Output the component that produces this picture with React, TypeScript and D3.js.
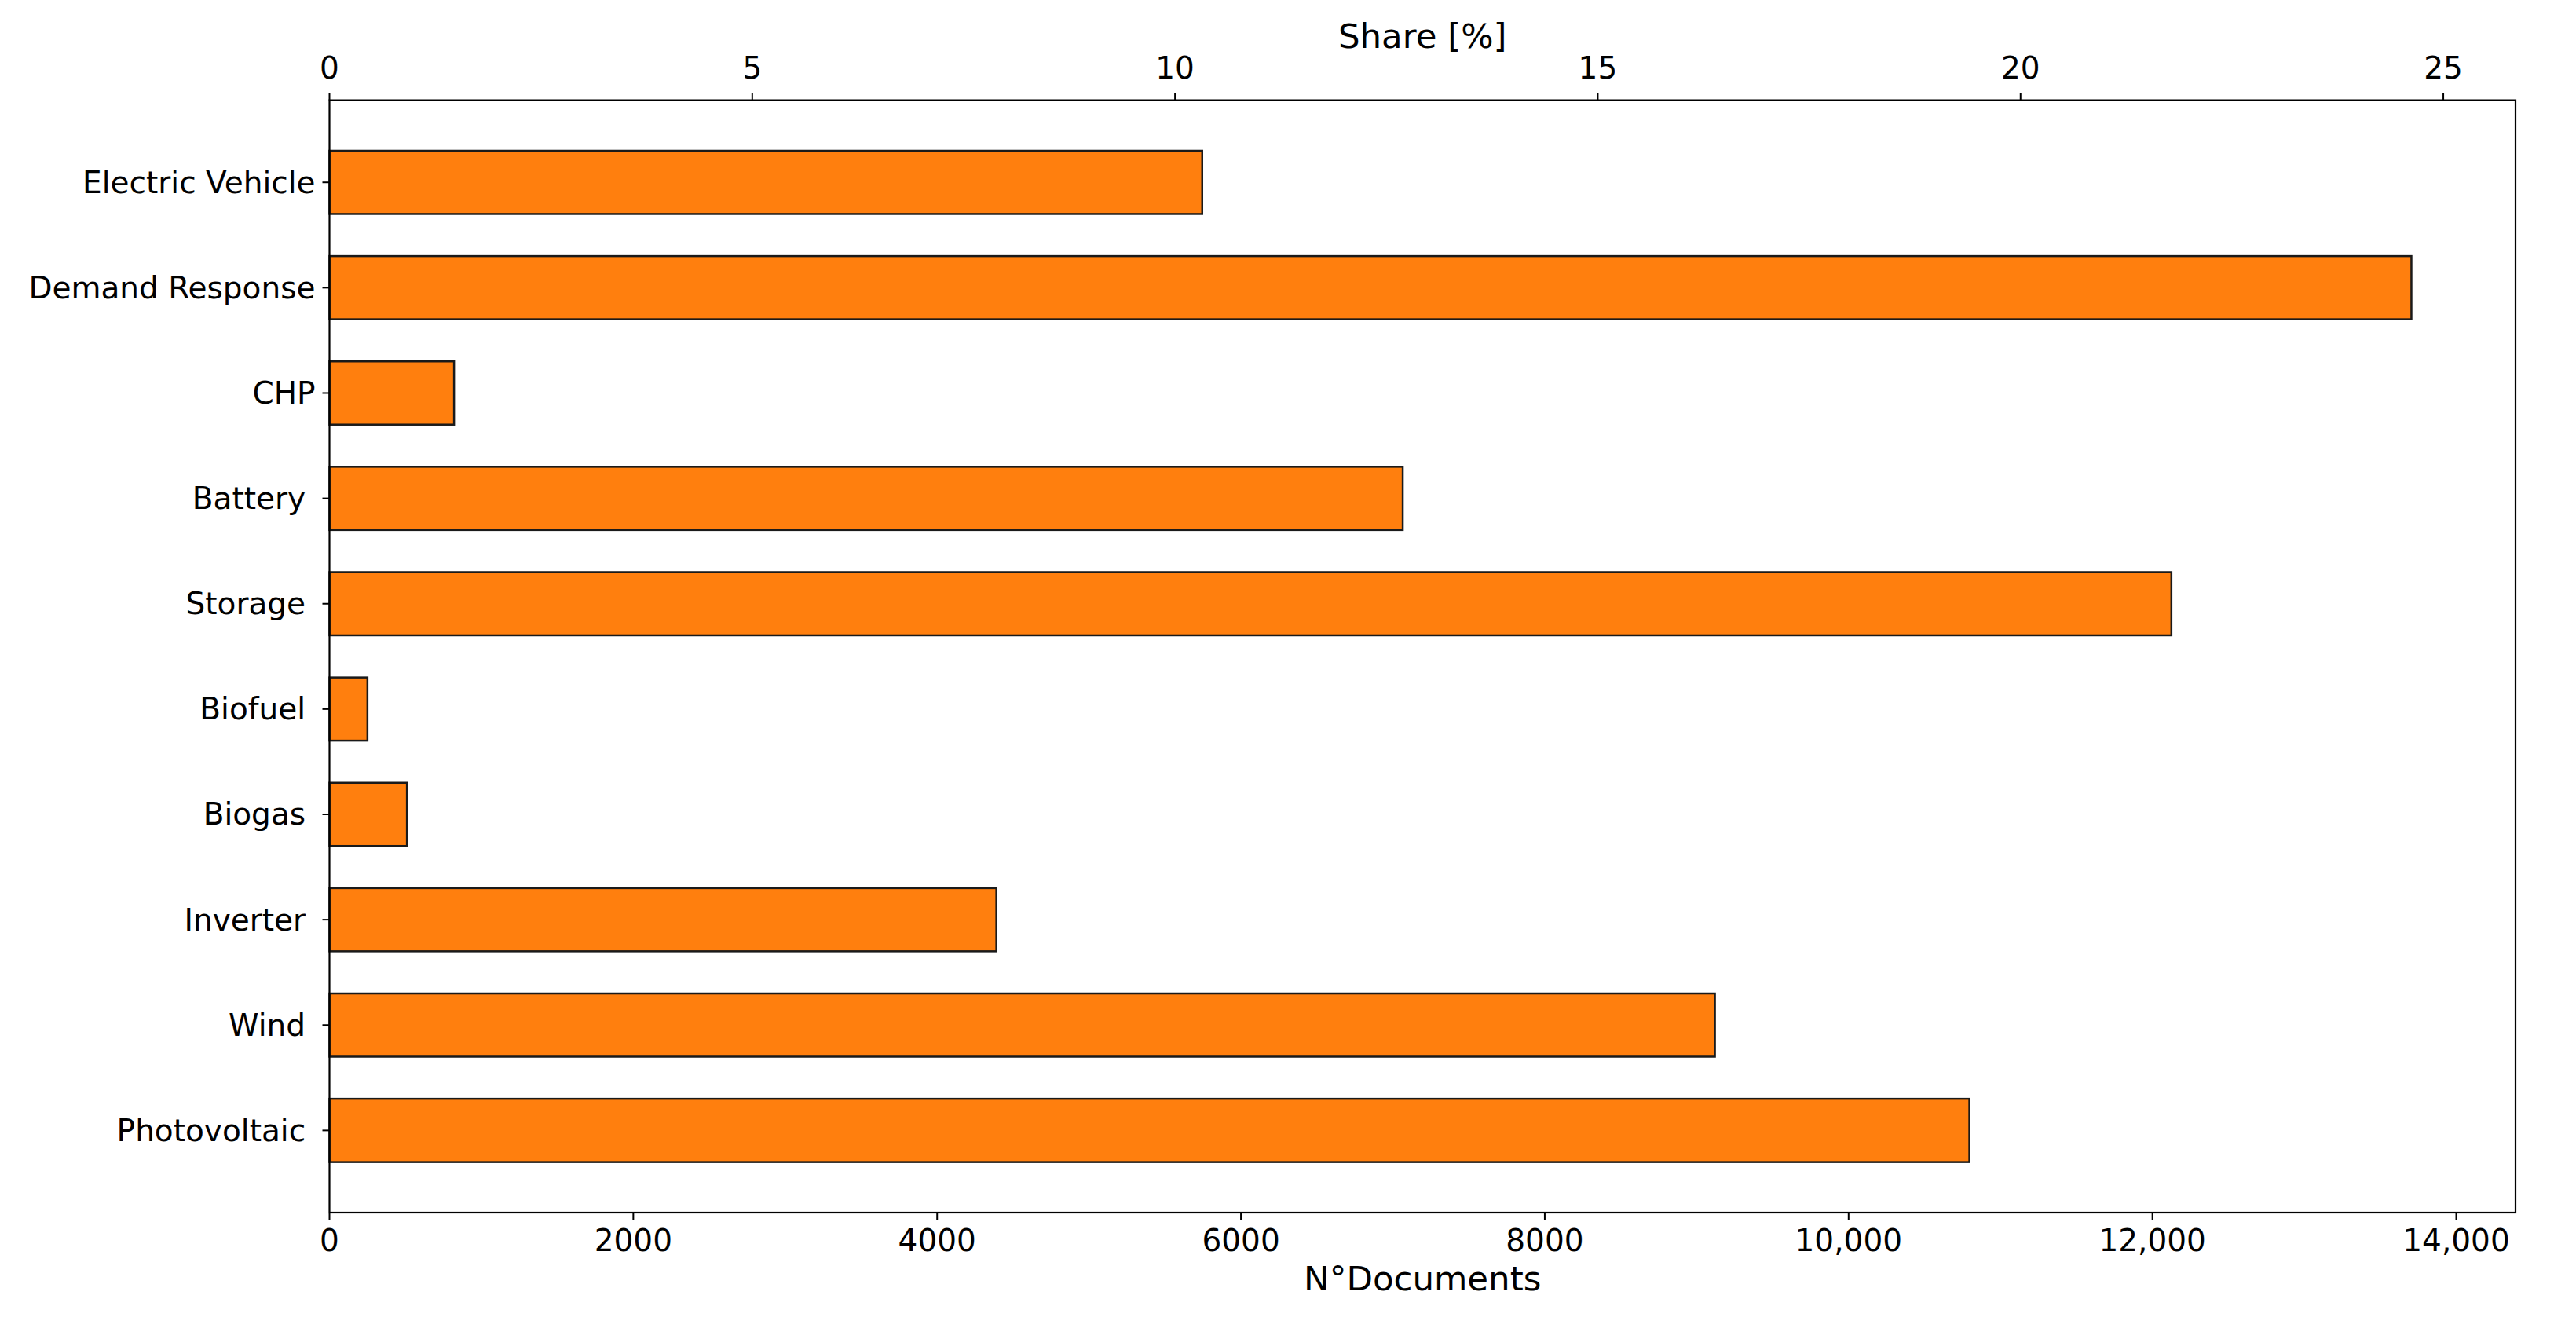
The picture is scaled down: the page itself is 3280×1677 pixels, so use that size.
import React from "react";
import * as d3 from "d3";

// ---- data (top to bottom as displayed) ----
const categories = [
  "Electric Vehicle",
  "Demand Response",
  "CHP",
  "Battery ",
  "Storage ",
  "Biofuel ",
  "Biogas ",
  "Inverter ",
  "Wind ",
  "Photovoltaic ",
];
const documents = [5745, 13705, 820, 7065, 12125, 250, 510, 4390, 9120, 10795];
const docTicks = [0, 2000, 4000, 6000, 8000, 10000, 12000, 14000];
const shareTicks = [0, 5, 10, 15, 20, 25];
const TOTAL_DOCS = 55660;

const W = 3280;
const H = 1677;
const M = { left: 419.5, right: 3203, top: 127.6, bottom: 1544 };
const FONT = "DejaVu Sans, sans-serif";
const BAR_H = 0.6;
const TICK_FS = 39;
const LABEL_FS = 43.5;

export default function App() {
  const n = categories.length;
  const xMax = (d3.max(documents) as number) * 1.05;
  const x = d3.scaleLinear().domain([0, xMax]).range([M.left, M.right]);
  const share = d3
    .scaleLinear()
    .domain([0, (xMax / TOTAL_DOCS) * 100])
    .range([M.left, M.right]);
  const span = n - 1 + BAR_H;
  const pad = span * 0.05;
  const y = d3
    .scaleLinear()
    .domain([-BAR_H / 2 - pad, n - 1 + BAR_H / 2 + pad])
    .range([M.bottom, M.top]);
  const pos = (i: number) => n - 1 - i;
  const fmt = (v: number) => (v >= 10000 ? d3.format(",")(v) : String(v));
  const barPx = Math.abs(y(BAR_H) - y(0));
  const tickLen = 9;

  return (
    <div style={{ position: "fixed", left: 0, top: 0 }}>
      <svg width={W} height={H} style={{ display: "block", background: "#fff" }} fontFamily={FONT}>
        <rect x={0} y={0} width={W} height={H} fill="#fff" />
        {/* bars */}
        {documents.map((v, i) => (
          <rect
            key={categories[i]}
            x={x(0)}
            y={y(pos(i)) - barPx / 2}
            width={x(v) - x(0)}
            height={barPx}
            fill="#ff7f0e"
            stroke="#1a1a1a"
            strokeWidth={2.5}
          />
        ))}
        {/* frame */}
        <rect
          x={M.left}
          y={M.top}
          width={M.right - M.left}
          height={M.bottom - M.top}
          fill="none"
          stroke="#000"
          strokeWidth={2.2}
        />
        {/* y ticks */}
        {categories.map((c, i) => (
          <g key={c}>
            <line
              x1={M.left - tickLen}
              x2={M.left}
              y1={y(pos(i))}
              y2={y(pos(i))}
              stroke="#000"
              strokeWidth={2}
            />
            <text
              x={M.left - tickLen - 9}
              y={y(pos(i))}
              textAnchor="end"
              dominantBaseline="central"
              fontSize={TICK_FS}
              fill="#000"
              style={{ whiteSpace: "pre" }}
            >
              {c}
            </text>
          </g>
        ))}
        {/* bottom ticks */}
        {docTicks.map((t) => (
          <g key={"b" + t}>
            <line x1={x(t)} x2={x(t)} y1={M.bottom} y2={M.bottom + tickLen} stroke="#000" strokeWidth={2} />
            <text x={x(t)} y={M.bottom + 49} textAnchor="middle" fontSize={TICK_FS} fill="#000">
              {fmt(t)}
            </text>
          </g>
        ))}
        <text x={(M.left + M.right) / 2} y={1643} textAnchor="middle" fontSize={LABEL_FS} fill="#000">
          N°Documents
        </text>
        {/* top ticks */}
        {shareTicks.map((t) => (
          <g key={"t" + t}>
            <line x1={share(t)} x2={share(t)} y1={M.top} y2={M.top - tickLen} stroke="#000" strokeWidth={2} />
            <text x={share(t)} y={M.top - 28} textAnchor="middle" fontSize={TICK_FS} fill="#000">
              {t}
            </text>
          </g>
        ))}
        <text x={(M.left + M.right) / 2} y={61} textAnchor="middle" fontSize={LABEL_FS} fill="#000">
          Share [%]
        </text>
      </svg>
    </div>
  );
}
